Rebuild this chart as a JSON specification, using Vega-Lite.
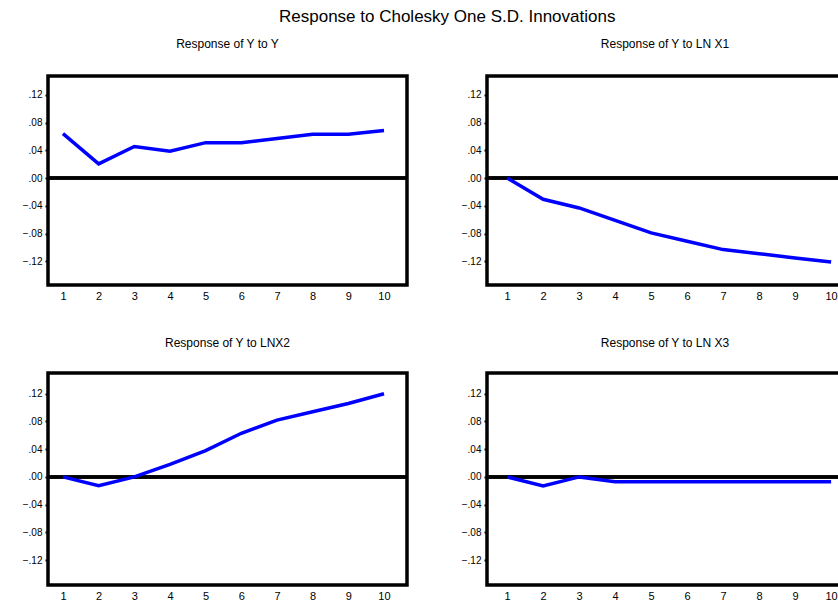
{
  "$schema": "https://vega.github.io/schema/vega-lite/v6.json",
  "background": "white",
  "padding": {"left": 6, "top": 8, "right": 0, "bottom": 0},
  "title": {"text": "Response to Cholesky One S.D. Innovations", "fontSize": 17, "fontWeight": "normal", "font": "Liberation Sans", "color": "black", "anchor": "start", "frame": "group", "dx": 231, "baseline": "alphabetic", "offset": -3},
  "columns": 2,
  "spacing": {"row": 28, "column": 35},
  "config": {
    "font": "Liberation Sans",
    "view": {"stroke": "black", "strokeWidth": 3.5},
    "title": {"fontSize": 12, "fontWeight": "normal", "color": "black", "anchor": "middle", "frame": "group", "baseline": "alphabetic"},
    "axis": {"grid": false, "domain": false, "labelColor": "black", "labelFont": "Liberation Sans", "title": null, "labelOverlap": false, "labelBound": false, "tickCount": 12},
    "axisX": {"ticks": false, "labelPadding": 5, "labelFontSize": 11, "minExtent": 20, "maxExtent": 20, "labelAngle": 0},
    "axisY": {"ticks": true, "tickSize": 3, "tickWidth": 2, "tickColor": "black", "labelPadding": 3, "labelFontSize": 10, "minExtent": 40, "maxExtent": 40}
  },
  "datasets": {
    "irf": [
      {"panel": "Y", "period": 1, "response": 0.064},
      {"panel": "Y", "period": 2, "response": 0.0205},
      {"panel": "Y", "period": 3, "response": 0.0455},
      {"panel": "Y", "period": 4, "response": 0.0387},
      {"panel": "Y", "period": 5, "response": 0.051},
      {"panel": "Y", "period": 6, "response": 0.051},
      {"panel": "Y", "period": 7, "response": 0.057},
      {"panel": "Y", "period": 8, "response": 0.063},
      {"panel": "Y", "period": 9, "response": 0.063},
      {"panel": "Y", "period": 10, "response": 0.0685},
      {"panel": "X1", "period": 1, "response": 0},
      {"panel": "X1", "period": 2, "response": -0.0306},
      {"panel": "X1", "period": 3, "response": -0.043},
      {"panel": "X1", "period": 4, "response": -0.061},
      {"panel": "X1", "period": 5, "response": -0.079},
      {"panel": "X1", "period": 6, "response": -0.091},
      {"panel": "X1", "period": 7, "response": -0.103},
      {"panel": "X1", "period": 8, "response": -0.109},
      {"panel": "X1", "period": 9, "response": -0.115},
      {"panel": "X1", "period": 10, "response": -0.121},
      {"panel": "X2", "period": 1, "response": 0},
      {"panel": "X2", "period": 2, "response": -0.0125},
      {"panel": "X2", "period": 3, "response": 0},
      {"panel": "X2", "period": 4, "response": 0.018},
      {"panel": "X2", "period": 5, "response": 0.038},
      {"panel": "X2", "period": 6, "response": 0.063},
      {"panel": "X2", "period": 7, "response": 0.082},
      {"panel": "X2", "period": 8, "response": 0.094},
      {"panel": "X2", "period": 9, "response": 0.106},
      {"panel": "X2", "period": 10, "response": 0.12},
      {"panel": "X3", "period": 1, "response": 0},
      {"panel": "X3", "period": 2, "response": -0.013},
      {"panel": "X3", "period": 3, "response": 0},
      {"panel": "X3", "period": 4, "response": -0.007},
      {"panel": "X3", "period": 5, "response": -0.007},
      {"panel": "X3", "period": 6, "response": -0.007},
      {"panel": "X3", "period": 7, "response": -0.007},
      {"panel": "X3", "period": 8, "response": -0.007},
      {"panel": "X3", "period": 9, "response": -0.007},
      {"panel": "X3", "period": 10, "response": -0.007}
    ]
  },
  "concat": [
    {
      "width": 359, "height": 209,
      "title": {"text": "Response of Y to Y", "offset": 25},
      "data": {"name": "irf"},
      "transform": [{"filter": "datum.panel === 'Y'"}],
      "layer": [
        {"mark": {"type": "rule", "color": "black", "strokeWidth": 2.5}, "encoding": {"y": {"datum": 0, "type": "quantitative"}}},
        {"mark": {"type": "line", "color": "#0000FF", "strokeWidth": 3.5},
         "encoding": {
           "x": {"field": "period", "type": "quantitative", "scale": {"domain": [0.58, 10.645], "nice": false, "zero": false}, "axis": {"values": [1,2,3,4,5,6,7,8,9,10], "format": "d", "tickCount": 12}},
           "y": {"field": "response", "type": "quantitative", "scale": {"domain": [-0.154, 0.147], "nice": false, "zero": false}, "axis": {"values": [-0.12,-0.08,-0.04,0,0.04,0.08,0.12], "tickCount": 12, "labelOverlap": false, "labelExpr": "replace(format(datum.value, '.2f'), '0.', '.')"}}
         }}
      ]
    },
    {
      "width": 356, "height": 209,
      "title": {"text": "Response of Y to LN X1", "offset": 25},
      "data": {"name": "irf"},
      "transform": [{"filter": "datum.panel === 'X1'"}],
      "layer": [
        {"mark": {"type": "rule", "color": "black", "strokeWidth": 2.5}, "encoding": {"y": {"datum": 0, "type": "quantitative"}}},
        {"mark": {"type": "line", "color": "#0000FF", "strokeWidth": 3.5},
         "encoding": {
           "x": {"field": "period", "type": "quantitative", "scale": {"domain": [0.44, 10.33], "nice": false, "zero": false}, "axis": {"values": [1,2,3,4,5,6,7,8,9,10], "format": "d", "tickCount": 12}},
           "y": {"field": "response", "type": "quantitative", "scale": {"domain": [-0.154, 0.147], "nice": false, "zero": false}, "axis": {"values": [-0.12,-0.08,-0.04,0,0.04,0.08,0.12], "tickCount": 12, "labelOverlap": false, "labelExpr": "replace(format(datum.value, '.2f'), '0.', '.')"}}
         }}
      ]
    },
    {
      "width": 359, "height": 212,
      "title": {"text": "Response of Y to LNX2", "offset": 23},
      "data": {"name": "irf"},
      "transform": [{"filter": "datum.panel === 'X2'"}],
      "layer": [
        {"mark": {"type": "rule", "color": "black", "strokeWidth": 2.5}, "encoding": {"y": {"datum": 0, "type": "quantitative"}}},
        {"mark": {"type": "line", "color": "#0000FF", "strokeWidth": 3.5},
         "encoding": {
           "x": {"field": "period", "type": "quantitative", "scale": {"domain": [0.58, 10.645], "nice": false, "zero": false}, "axis": {"values": [1,2,3,4,5,6,7,8,9,10], "format": "d", "tickCount": 12}},
           "y": {"field": "response", "type": "quantitative", "scale": {"domain": [-0.156, 0.15], "nice": false, "zero": false}, "axis": {"values": [-0.12,-0.08,-0.04,0,0.04,0.08,0.12], "tickCount": 12, "labelOverlap": false, "labelExpr": "replace(format(datum.value, '.2f'), '0.', '.')"}}
         }}
      ]
    },
    {
      "width": 356, "height": 212,
      "title": {"text": "Response of Y to LN X3", "offset": 23},
      "data": {"name": "irf"},
      "transform": [{"filter": "datum.panel === 'X3'"}],
      "layer": [
        {"mark": {"type": "rule", "color": "black", "strokeWidth": 2.5}, "encoding": {"y": {"datum": 0, "type": "quantitative"}}},
        {"mark": {"type": "line", "color": "#0000FF", "strokeWidth": 3.5},
         "encoding": {
           "x": {"field": "period", "type": "quantitative", "scale": {"domain": [0.44, 10.33], "nice": false, "zero": false}, "axis": {"values": [1,2,3,4,5,6,7,8,9,10], "format": "d", "tickCount": 12}},
           "y": {"field": "response", "type": "quantitative", "scale": {"domain": [-0.156, 0.15], "nice": false, "zero": false}, "axis": {"values": [-0.12,-0.08,-0.04,0,0.04,0.08,0.12], "tickCount": 12, "labelOverlap": false, "labelExpr": "replace(format(datum.value, '.2f'), '0.', '.')"}}
         }}
      ]
    }
  ]
}
